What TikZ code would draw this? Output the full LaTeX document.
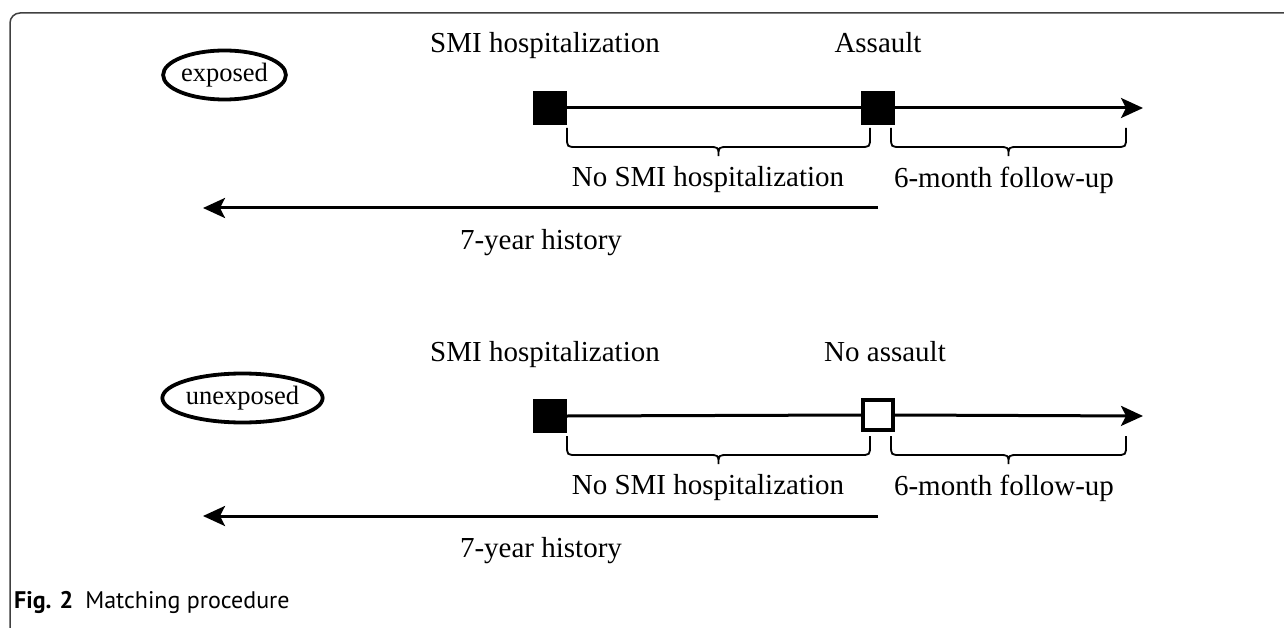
\documentclass[tikz,border=0pt]{standalone}
\usepackage{fontspec}
\setmainfont{Liberation Serif}
\newfontfamily\capfont{PT Sans}
\usetikzlibrary{arrows.meta,shapes.geometric}
\newcommand\mybrace[3]{%
  \draw[brc] (#1,#3) -- (#1,{#3+9}) .. controls (#1,{#3+19}) .. ({#1+10},{#3+19})
    -- ({(#1+#2)/2-10},{#3+19}) .. controls ({(#1+#2)/2},{#3+19}) .. ({(#1+#2)/2},{#3+28})
    .. controls ({(#1+#2)/2},{#3+19}) .. ({(#1+#2)/2+10},{#3+19})
    -- ({#2-10},{#3+19}) .. controls (#2,{#3+19}) .. (#2,{#3+9}) -- (#2,#3);}
\begin{document}
\begin{tikzpicture}[x=1pt,y=-1pt,
  lbl/.style={font=\fontsize{29}{31}\selectfont, inner sep=0pt},
  oval/.style={ellipse, draw, line width=3.8pt, font=\fontsize{26.5}{28}\selectfont, inner sep=0pt, minimum height=49pt},
  event/.style={minimum size=34pt, inner sep=0pt, fill=black},
  noevent/.style={minimum size=30pt, inner sep=0pt, draw, line width=4pt, fill=white},
  tline/.style={line width=3pt, -{Stealth[length=22pt,width=20pt,inset=5pt]}},
  plain/.style={line width=3pt},
  brc/.style={line width=1.8pt},
  frame/.style={draw=black!75, line width=1.5pt, rounded corners=10pt}
]
\useasboundingbox (0,0) rectangle (1284,628);
\draw[frame] (1284,13) -- (10,13) -- (10,628);

% exposed
\node[oval, minimum width=119pt] (ex) at (224.5,75) {exposed};
\node[lbl, anchor=base] (t1) at (545,53) {SMI hospitalization};
\node[lbl, anchor=base] (t2) at (878,53) {Assault};
\node[event] (s1) at (550,108) {};
\node[event] (s2) at (878,108) {};
\coordinate (e1) at (1143,108);
\draw[plain] (s1.east) -- (s2.west);
\draw[tline] (s2.east) -- (e1);
\mybrace{567}{870}{128}
\mybrace{891}{1126}{128}
\node[lbl] (n1) at (708,180) {No SMI hospitalization};
\node[lbl] (f1) at (1004,180) {6-month follow-up};
\coordinate (h1s) at (878,208);
\coordinate (h1e) at (203,208);
\draw[tline] (h1s) -- (h1e);
\node[lbl] (y1) at (541,243) {7-year history};

% unexposed
\node[oval, minimum width=160pt] (un) at (242.5,398) {unexposed};
\node[lbl, anchor=base] (t3) at (545,361) {SMI hospitalization};
\node[lbl, anchor=base] (t4) at (885,361) {No assault};
\node[event] (s3) at (550,416) {};
\node[noevent] (s4) at (878,415) {};
\coordinate (e2) at (1143,416);
\draw[plain] (s3.east) -- (s4.west);
\draw[tline] (s4.east) -- (e2);
\mybrace{567}{870}{436}
\mybrace{891}{1126}{436}
\node[lbl] (n2) at (708,488) {No SMI hospitalization};
\node[lbl] (f2) at (1004,488) {6-month follow-up};
\coordinate (h2s) at (878,516);
\coordinate (h2e) at (203,516);
\draw[tline] (h2s) -- (h2e);
\node[lbl] (y2) at (541,551) {7-year history};

\node[anchor=base west, inner sep=0pt, font=\capfont\fontsize{24}{26}\selectfont] (cap) at (14,608) {\textbf{Fig. 2}\hspace{0.5em}Matching procedure};
\end{tikzpicture}
\end{document}
